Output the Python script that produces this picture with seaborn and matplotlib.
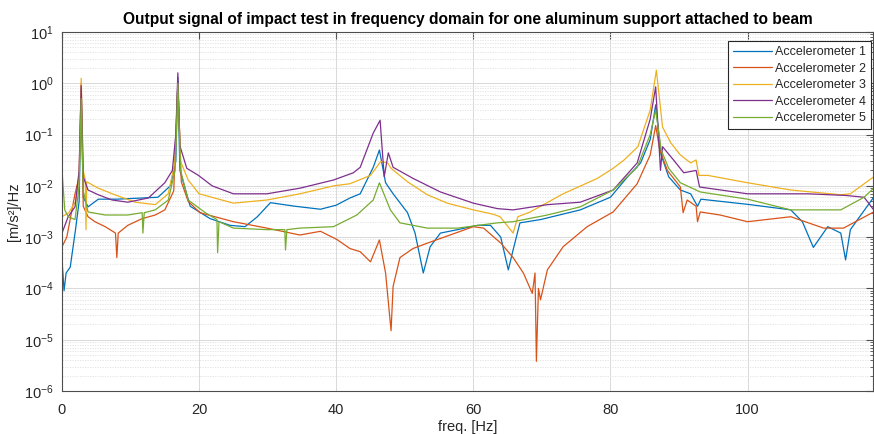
import numpy as np
import pandas as pd
import matplotlib
matplotlib.use("Agg")
import matplotlib.pyplot as plt
import seaborn as sns
from matplotlib.ticker import LogLocator, NullFormatter, MultipleLocator

# ---------------- data ----------------
series_names = ["Accelerometer 1", "Accelerometer 2", "Accelerometer 3",
                "Accelerometer 4", "Accelerometer 5"]

f_acc1 = [0, 0.3, 0.6, 1.2, 2.0, 2.5, 2.8, 3.1, 3.8, 5.3, 8, 11.7, 14, 15.8, 16.6,
          16.9, 17.2, 18.7, 21.6, 24.5, 26.7, 28.5, 30.4, 34, 37.7, 40, 42, 43.5,
          45.4, 46.3, 47.2, 48.3, 50.4, 51.5, 52.7, 53.7, 55.2, 57.7, 60.6, 62.5,
          64, 65.1, 65.8, 66.8, 69.8, 75.6, 80, 82.5, 84.4, 85.8, 86.6, 87.4, 88.5,
          90.2, 91.7, 92.7, 93.2, 100.4, 106.3, 108, 109.6, 111.7, 113.6, 114.3,
          115, 118.4]
v_acc1 = [3.6e-4, 9e-5, 2e-4, 2.6e-4, 1.5e-3, 5e-3, 0.8, 6e-3, 3.9e-3, 5.5e-3,
          5.5e-3, 5.8e-3, 6e-3, 1e-2, 3e-2, 1.3, 2e-2, 4e-3, 2.3e-3, 1.7e-3, 1.6e-3,
          2.5e-3, 4.7e-3, 4e-3, 3.5e-3, 4.2e-3, 5.8e-3, 7e-3, 2.3e-2, 5e-2, 1.15e-2,
          7e-3, 3e-3, 1.2e-3, 2e-4, 6.5e-4, 1.2e-3, 1.4e-3, 1.7e-3, 1.7e-3, 1e-3,
          2.3e-4, 5.6e-4, 1.9e-3, 2.2e-3, 3.4e-3, 6e-3, 1.5e-2, 2.8e-2, 0.08, 0.38,
          0.04, 1.5e-2, 8.3e-3, 7e-3, 4e-3, 5.5e-3, 4.3e-3, 3.4e-3, 2e-3, 6.3e-4,
          1.6e-3, 1.2e-3, 3.6e-4, 1.4e-3, 6e-3]

f_acc2 = [0, 0.7, 1.9, 2.5, 2.8, 3.1, 3.8, 4.8, 6.3, 7.8, 8.0, 8.2, 9.6, 11.7, 13.6,
          15, 16.3, 16.9, 17.4, 18.4, 20.1, 25, 29.9, 34.7, 37.7, 40.1, 42, 43.5,
          45, 46.3, 47.2, 48, 48.3, 49.3, 51.2, 53.7, 56.6, 60, 61.5, 63, 64, 65.8,
          67.3, 68.6, 69.0, 69.2, 69.5, 69.8, 70.8, 73.1, 76.6, 80.4, 83.9, 85.8,
          86.6, 87.2, 88.3, 90.2, 90.6, 91.2, 92.5, 92.7, 93.1, 96, 100, 106.3,
          111.1, 114, 118.4]
v_acc2 = [6.5e-4, 1e-3, 7e-3, 1.5e-2, 1.0, 4e-3, 2.5e-3, 2e-3, 1.6e-3, 1.2e-3,
          4e-4, 1.2e-3, 1.7e-3, 2.3e-3, 2.7e-3, 3.4e-3, 8e-3, 1.0, 1.2e-2, 5e-3,
          3e-3, 2e-3, 1.5e-3, 1.1e-3, 1.3e-3, 9e-4, 6e-4, 5.2e-4, 3.3e-4, 8.8e-4,
          2e-4, 1.5e-5, 1.1e-4, 4e-4, 6e-4, 8e-4, 1.1e-3, 1.6e-3, 1.5e-3, 1e-3,
          7.7e-4, 4e-4, 2e-4, 8e-5, 2e-4, 3.8e-6, 1e-4, 6e-5, 2.3e-4, 6.5e-4,
          1.6e-3, 3.1e-3, 1.1e-2, 0.04, 0.15, 0.05, 2e-2, 9.5e-3, 3e-3, 5.3e-3,
          4e-3, 2e-3, 3.1e-3, 2.7e-3, 2e-3, 2.5e-3, 1.5e-3, 1.5e-3, 3.1e-3]

f_acc3 = [0, 1, 2, 2.5, 2.8, 3.1, 3.4, 3.5, 3.6, 5.3, 7.7, 10.7, 13.6, 15.5, 16.5,
          16.9, 17.3, 18.4, 20, 25, 29.9, 34.7, 39.6, 42, 45, 46.5, 47.5, 48, 50.4,
          53.3, 56.2, 60, 62.9, 63.9, 65.8, 66.5, 68.3, 73.1, 78.1, 80.4, 82, 84,
          85.8, 86.7, 87.6, 88.8, 90.2, 91.7, 92.5, 92.9, 94.2, 100, 106.3, 113.6,
          115, 118.4]
v_acc3 = [2.5e-3, 3e-3, 5e-3, 1.5e-2, 1.25, 2e-2, 1.3e-2, 1.4e-3, 1.2e-2, 9e-3,
          6.7e-3, 4.8e-3, 4.3e-3, 7e-3, 3e-2, 1.0, 3e-2, 1.3e-2, 7e-3, 4.6e-3,
          5.3e-3, 7e-3, 1e-2, 1.1e-2, 1.6e-2, 3e-2, 2.8e-2, 2.2e-2, 1.2e-2, 6.7e-3,
          4.6e-3, 3.4e-3, 2.8e-3, 2.5e-3, 1.2e-3, 2.5e-3, 3.1e-3, 7e-3, 1.4e-2,
          2.2e-2, 3.2e-2, 5.8e-2, 0.3, 1.8, 0.14, 0.069, 0.04, 0.028, 0.032, 0.016,
          0.016, 1.15e-2, 8.3e-3, 6.7e-3, 7e-3, 1.5e-2]

f_acc4 = [0, 0.9, 1.9, 2.5, 2.8, 3.1, 3.8, 5.3, 7.3, 9.6, 12.6, 15, 16.1, 16.6, 16.9,
          17.2, 18.2, 19.9, 21.9, 25, 29.9, 34.7, 39.6, 42.5, 43.5, 45.4, 46.4, 47,
          47.6, 48.3, 51.2, 55.2, 60, 63.5, 65.8, 70.8, 75.6, 80.4, 83.9, 85.8, 86.6,
          87.3, 87.6, 89.2, 90.7, 92.5, 93, 100, 108.8, 114.3, 117, 118.4]
v_acc4 = [1.2e-3, 2.5e-3, 3.9e-3, 2e-2, 0.9, 1.5e-2, 8.3e-3, 6.7e-3, 5.3e-3, 4.8e-3,
          5.8e-3, 1.15e-2, 2e-2, 0.1, 1.6, 0.06, 2.2e-2, 1.6e-2, 1e-2, 7e-3, 7e-3,
          9e-3, 1.3e-2, 1.8e-2, 2.3e-2, 0.107, 0.19, 1.5e-2, 0.044, 2.3e-2, 1.4e-2,
          7.6e-3, 4.6e-3, 3.6e-3, 3.4e-3, 4.3e-3, 4.8e-3, 8.3e-3, 2.8e-2, 0.2, 0.85,
          2e-2, 0.058, 0.032, 1.8e-2, 2e-2, 9.5e-3, 7e-3, 7e-3, 6.5e-3, 6e-3, 3.4e-3]

f_acc5 = [0, 0.4, 0.9, 1.9, 2.5, 2.8, 3.1, 3.8, 6.3, 9.6, 11.7, 11.8, 12.0, 13.6,
          15.5, 16.5, 16.9, 17.3, 18.4, 20.9, 22.6, 22.7, 22.9, 25, 29.9, 32.5, 32.6,
          32.8, 34.7, 39.6, 43, 45.4, 46.3, 47.9, 49.3, 53.3, 57.7, 63.5, 65.8, 70.8,
          75.6, 80.4, 83.9, 85.8, 86.6, 87.4, 88.5, 90.2, 93.1, 100, 106.3, 113.6,
          117, 118.4]
v_acc5 = [2e-2, 3.4e-3, 2.5e-3, 2.2e-3, 1e-2, 0.5, 8e-3, 3.1e-3, 2.7e-3, 2.7e-3,
          3e-3, 1.2e-3, 3e-3, 3.4e-3, 5.3e-3, 2e-2, 1.0, 2e-2, 5.3e-3, 3e-3, 2.2e-3,
          5e-4, 2e-3, 1.5e-3, 1.4e-3, 1.4e-3, 5.6e-4, 1.4e-3, 1.5e-3, 1.6e-3, 2.7e-3,
          5.3e-3, 1.15e-2, 3.4e-3, 1.9e-3, 1.5e-3, 1.5e-3, 1.9e-3, 2e-3, 2.7e-3,
          3.9e-3, 8.3e-3, 2.3e-2, 0.1, 0.3, 0.05, 2.2e-2, 1.15e-2, 7.6e-3, 5.5e-3,
          3.4e-3, 3.4e-3, 6e-3, 9e-3]

colors = ["#0072BD", "#D95319", "#EDB120", "#7E2F8E", "#77AC30"]

# ---------------- build long-form table ----------------
freqs = [f_acc1, f_acc2, f_acc3, f_acc4, f_acc5]
vals = [v_acc1, v_acc2, v_acc3, v_acc4, v_acc5]
frames = []
for name, f, v in zip(series_names, freqs, vals):
    frames.append(pd.DataFrame({"freq": f, "psd": v, "sensor": name}))
df = pd.concat(frames, ignore_index=True)

# ---------------- plot ----------------
sns.set_style("white")
plt.rcParams["font.family"] = ["Liberation Sans", "DejaVu Sans"]
plt.rcParams["mathtext.fontset"] = "custom"
plt.rcParams["mathtext.rm"] = "Liberation Sans"

fig = plt.figure(figsize=(8.74, 4.34), dpi=100)
ax = fig.add_axes([62 / 874, 43 / 434, 811 / 874, 359 / 434])

sns.lineplot(data=df, x="freq", y="psd", hue="sensor", palette=colors,
             estimator=None, sort=False, linewidth=0.9, ax=ax)

ax.set_yscale("log")
ax.set_ylim(1e-6, 10)
ax.set_xlim(0, 118.3)
ax.xaxis.set_major_locator(MultipleLocator(20))
ax.yaxis.set_major_locator(LogLocator(base=10, numticks=20))
ax.yaxis.set_minor_locator(LogLocator(base=10, subs=np.arange(2, 10), numticks=100))
ax.yaxis.set_minor_formatter(NullFormatter())

ax.set_axisbelow(True)
ax.grid(True, which="major", axis="both", color="#d9d9d9", linewidth=0.7, linestyle="-")
ax.grid(True, which="minor", axis="y", color="#e0e0e0", linewidth=0.6, linestyle=(0, (1.5, 1.5)))

for s in ax.spines.values():
    s.set_color("#4d4d4d")
    s.set_linewidth(0.8)
    s.set_visible(True)
ax.tick_params(axis="both", which="both", direction="in", top=True, right=True,
               colors="#4d4d4d", labelcolor="#262626", labelsize=10.5)
ax.tick_params(axis="both", which="major", length=5, width=0.8)
ax.tick_params(axis="y", which="minor", length=2.5, width=0.6)
ax.tick_params(axis="x", which="major", pad=9)
ax.tick_params(axis="y", which="major", pad=6)

ax.set_xlabel("freq. [Hz]", fontsize=10.5, color="#262626", labelpad=2)
ax.set_ylabel("[m/s²]/Hz", fontsize=10.5, color="#262626", labelpad=2)
ax.set_title("Output signal of impact test in frequency domain for one aluminum support attached to beam",
             fontsize=11.2, fontweight="bold", color="#000000", pad=6)

leg = ax.legend(loc="upper right", bbox_to_anchor=(0.999, 0.978), fontsize=9,
                frameon=True, fancybox=False, edgecolor="#262626", framealpha=1,
                handlelength=3.1, handletextpad=0.25, borderpad=0.4, labelspacing=0.36,
                borderaxespad=0.1)
leg.get_frame().set_linewidth(0.8)

fig.savefig("out.png", dpi=100, facecolor="white")
